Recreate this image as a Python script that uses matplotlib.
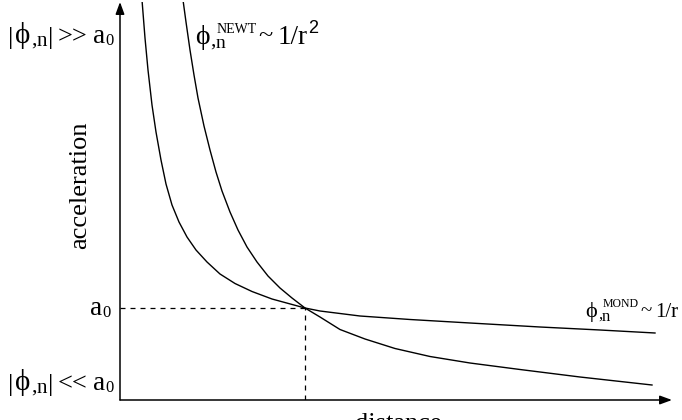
import matplotlib
matplotlib.use("Agg")
import matplotlib.pyplot as plt
import matplotlib.transforms as mtransforms

plt.rcParams['font.family'] = ['Liberation Serif', 'DejaVu Serif']
plt.rcParams['mathtext.fontset'] = 'custom'
plt.rcParams['mathtext.rm'] = 'Liberation Serif'
plt.rcParams['mathtext.it'] = 'Liberation Serif'
plt.rcParams['mathtext.bf'] = 'Liberation Serif:bold'

# ---- data (schematic units: distance r, acceleration a) ----
mond_r = [22, 25, 28, 32, 36, 41, 46, 52, 59, 67, 76, 87, 100, 115, 132, 152, 185,
          200, 240, 290, 350, 420, 480, 535]
mond_a = [400, 362, 330, 295, 268, 240, 216, 195, 178, 163, 150, 138, 126, 116.5,
          108.5, 101, 92, 89, 84, 80.5, 77, 73, 70, 67]

newt_r = [63, 66, 70, 74, 78, 84, 90, 96, 102, 110, 118, 127, 137, 148, 160, 172,
          185, 200, 220, 245, 275, 310, 350, 400, 460, 532]
newt_a = [400, 378, 350, 325, 302, 274, 250, 228, 209, 188, 170, 153, 138, 124,
          112, 102, 92, 83, 70.5, 61, 51.5, 43.5, 37, 30.5, 23, 15]

a0_r = 185   # crossing distance
a0_a = 92    # a0 level

x_max = 552
y_max = 398

fig = plt.figure(figsize=(6.82, 4.20), dpi=100)
ax = fig.add_axes([120/682, 20/420, 552/682, 398/420])
ax.set_xlim(0, x_max)
ax.set_ylim(0, y_max)
for s in ax.spines.values():
    s.set_visible(False)
ax.set_xticks([])
ax.set_yticks([])
ax.patch.set_alpha(0)
renderer = fig.canvas.get_renderer()

# axes arrows
arr = dict(arrowstyle='-|>,head_length=0.6,head_width=0.22', color='black', lw=1.1,
           shrinkA=0, shrinkB=0, mutation_scale=12)
ax.annotate('', xy=(1, 0), xytext=(0, 0), xycoords='axes fraction', arrowprops=arr)
ax.annotate('', xy=(0, 1), xytext=(0, 0), xycoords='axes fraction', arrowprops=arr)

# curves
ax.plot(mond_r, mond_a, color='black', lw=1.0, solid_joinstyle='round')
ax.plot(newt_r, newt_a, color='black', lw=1.0, solid_joinstyle='round')

# dashed guides
ax.plot([0, a0_r], [a0_a, a0_a], color='black', lw=0.9, ls=(0, (4, 4)))
ax.plot([a0_r, a0_r], [0, a0_a], color='black', lw=0.9, ls=(0, (4, 4)))

SERIF = ['Liberation Serif', 'DejaVu Serif']
SANS = ['Liberation Sans', 'DejaVu Sans']
PHI = r'$\phi$'


def put(anchor, pieces):
    """Place text pieces one after another, starting at a baseline anchor (data)."""
    xo = 0.0
    for s, size, dx, dy, adv, fam in pieces:
        xo += dx
        tr = mtransforms.offset_copy(ax.transData, fig=fig, x=xo, y=dy, units='dots')
        t = ax.text(anchor[0], anchor[1], s, transform=tr, fontsize=size, family=fam,
                    ha='left', va='baseline', clip_on=False)
        if adv:
            xo += t.get_window_extent(renderer).width


def phi_label(anchor, rel):
    put(anchor, [
        ('|', 19, 0, -1, True, SERIF),
        (PHI, 21, 1, 0, True, SERIF),
        (',', 16, 0, -2, True, SERIF),
        ('n', 15, 0, -3, True, SERIF),
        ('|', 19, 1, -1, True, SERIF),
        (rel, 19, 5, 0, True, SERIF),
        ('a', 19.5, 5, 0, True, SERIF),
        ('0', 12, 0, -2, True, SERIF),
    ])


# left-hand labels (anchors = text baselines)
phi_label((-112, 357), '>>')
put((-30, 85), [('a', 19.5, 0, 0, True, SERIF), ('0', 12, 0, -2, True, SERIF)])
phi_label((-112, 10), '<<')

# curve labels
put((75, 356), [
    (PHI, 20, 0, 0, True, SERIF),
    (',', 15, 0, -2, True, SERIF),
    ('n', 14, 0, -4, False, SERIF),
    ('NEWT', 10, 1, 11, True, SERIF),
    ('~', 19, 1, 2, True, SERIF),
    ('1/r', 19.5, 5, 0, True, SERIF),
    ('2', 13, 1, 11, True, SANS),
])
put((465, 83), [
    (PHI, 16, 0, 0, True, SERIF),
    (',', 12, 0, -2, True, SERIF),
    ('n', 12, 0, -4, False, SERIF),
    ('MOND', 8.5, 1, 10, True, SERIF),
    ('~', 15, 1, 1, True, SERIF),
    ('1/r', 15, 4, 0, True, SERIF),
])

ax.text(-40, 215, 'acceleration', rotation=90, ha='center', va='center', fontsize=19,
        clip_on=False)
ax.text(278, -13, 'distance', ha='center', va='top', fontsize=19, clip_on=False)

fig.savefig('out.png', dpi=100)
